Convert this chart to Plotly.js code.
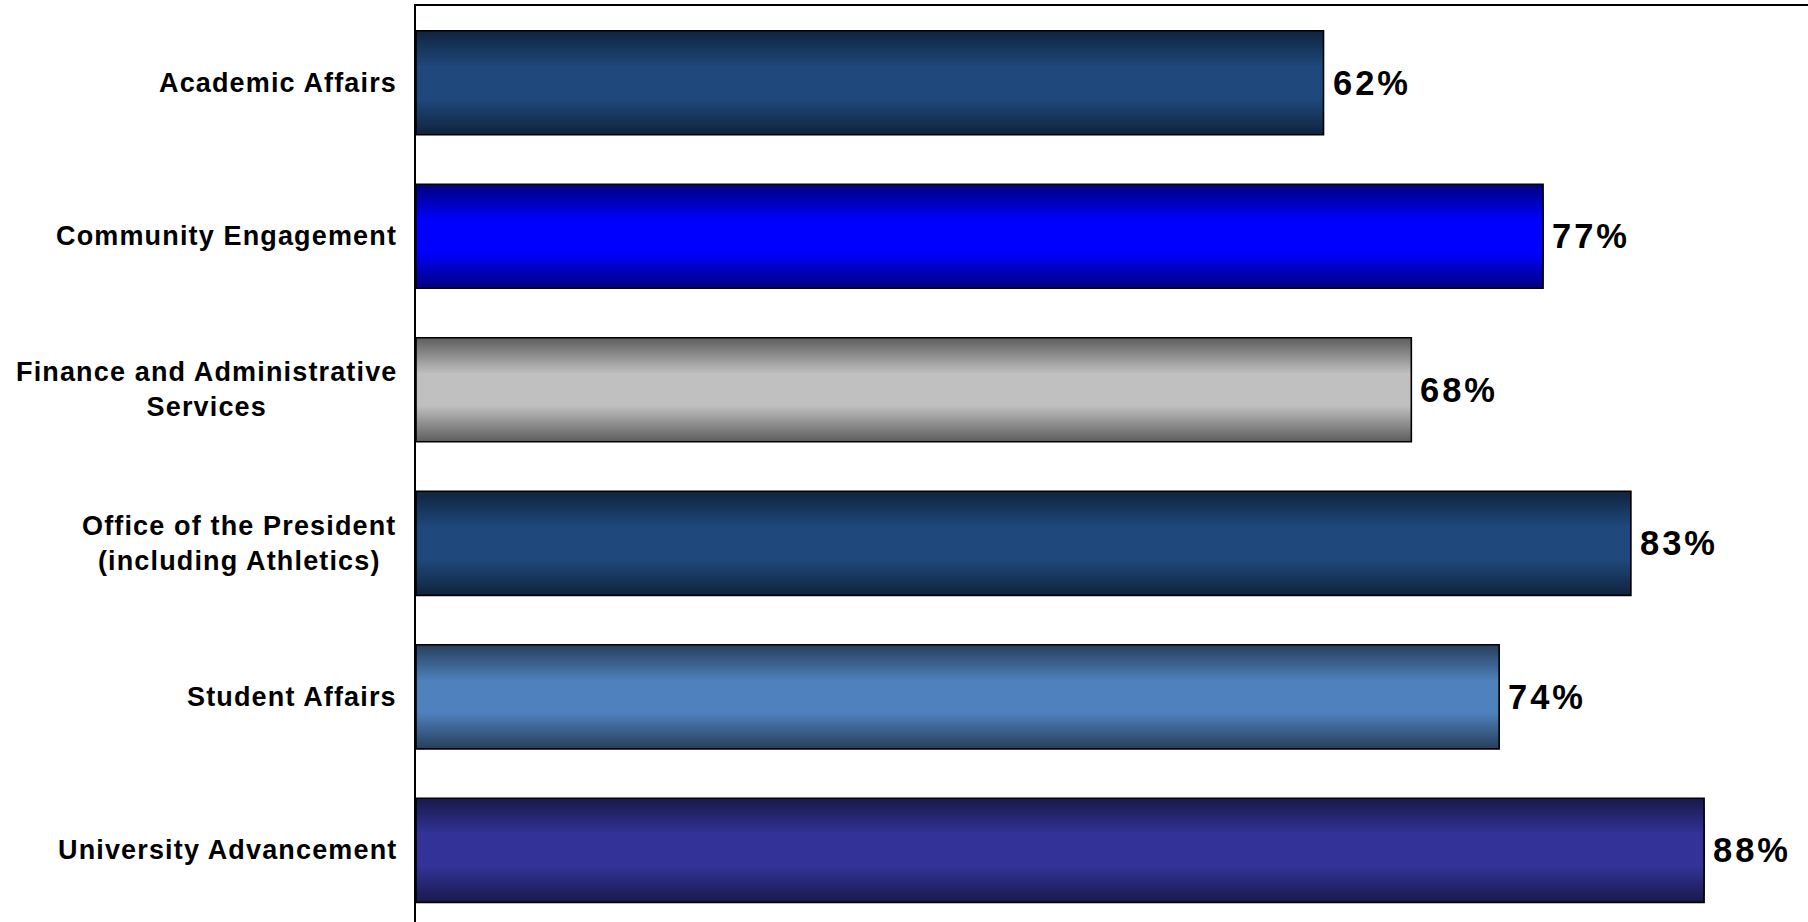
<!DOCTYPE html>
<html>
<head>
<meta charset="utf-8">
<script src="https://cdn.plot.ly/plotly-3.0.1.min.js"></script>
<style>
  html, body { margin: 0; padding: 0; background: #ffffff; overflow: hidden; }
  #chart { width: 1808px; height: 922px; }
</style>
</head>
<body>
<div id="chart"></div>
<script>
// ---- Data ----
const categories = [
  "Academic Affairs",
  "Community Engagement",
  "Finance and Administrative<br>Services",
  "Office of the President<br>(including Athletics)",
  "Student Affairs",
  "University Advancement"
];
const values = [62, 77, 68, 83, 74, 88];
const valueLabels = ["62%", "77%", "68%", "83%", "74%", "88%"];

// ---- Style ----
const barColors = ["#1F497D", "#0000FF", "#C0C0C0", "#1F497D", "#4F81BD", "#333399"];
const FONT = "Liberation Sans, Arial, sans-serif";
const BAR_WIDTH = 0.678;
const LAYERS = 28;
const EDGE_FACTOR = 0.5;
const RAMP = 0.34;

function hexToRgb(h) {
  h = h.replace('#', '');
  return [parseInt(h.slice(0, 2), 16), parseInt(h.slice(2, 4), 16), parseInt(h.slice(4, 6), 16)];
}
function shade(hex, t) {
  const c = hexToRgb(hex);
  const f = EDGE_FACTOR + (1 - EDGE_FACTOR) * t;
  return 'rgb(' + c.map(v => Math.round(v * f)).join(',') + ')';
}
function spaced(text, px) {
  return text.split('<br>').map(s => '<span style="letter-spacing:' + px + 'px"><b>' + s + '</b></span>').join('<br>');
}

const traces = [];
for (let k = 0; k < LAYERS; k++) {
  const w = BAR_WIDTH * (1 - k / LAYERS);
  const d = k / (2 * LAYERS);
  const t = Math.min(1, d / RAMP);
  traces.push({
    type: 'bar',
    orientation: 'h',
    y: categories,
    x: values,
    width: w,
    marker: {
      color: barColors.map(c => shade(c, t)),
      line: { width: 0 }
    },
    hoverinfo: 'skip',
    showlegend: false
  });
}
traces.push({
  type: 'bar',
  orientation: 'h',
  y: categories,
  x: values,
  width: BAR_WIDTH,
  marker: { color: 'rgba(0,0,0,0)', line: { color: '#000000', width: 1.6 } },
  hoverinfo: 'skip',
  showlegend: false
});

const annotations = [];
categories.forEach((c, i) => {
  annotations.push({
    xref: 'paper', yref: 'y',
    x: 0, y: c,
    xanchor: 'right', yanchor: 'middle',
    xshift: -17,
    align: 'center',
    showarrow: false,
    text: spaced(c, 1.15),
    font: { family: FONT, size: 27, color: '#000000' }
  });
  annotations.push({
    xref: 'x', yref: 'y',
    x: values[i], y: c,
    xanchor: 'left', yanchor: 'middle',
    xshift: 7,
    showarrow: false,
    text: spaced(valueLabels[i], 3),
    font: { family: FONT, size: 34.5, color: '#000000' }
  });
});

const layout = {
  width: 1808,
  height: 922,
  margin: { l: 416, r: 0, t: 6, b: 0, pad: 0 },
  paper_bgcolor: '#ffffff',
  plot_bgcolor: '#ffffff',
  barmode: 'overlay',
  showlegend: false,
  font: { family: FONT, color: '#000000' },
  xaxis: {
    side: 'top',
    range: [0, 95.1],
    showline: true, linecolor: '#000000', linewidth: 2,
    showgrid: false, zeroline: false,
    showticklabels: false, ticks: ''
  },
  yaxis: {
    type: 'category',
    range: [5.467, -0.5],
    showline: true, linecolor: '#000000', linewidth: 2,
    showgrid: false, zeroline: false,
    showticklabels: false, ticks: ''
  },
  annotations: annotations
};

Plotly.newPlot('chart', traces, layout, { displayModeBar: false, staticPlot: true });
</script>
</body>
</html>
